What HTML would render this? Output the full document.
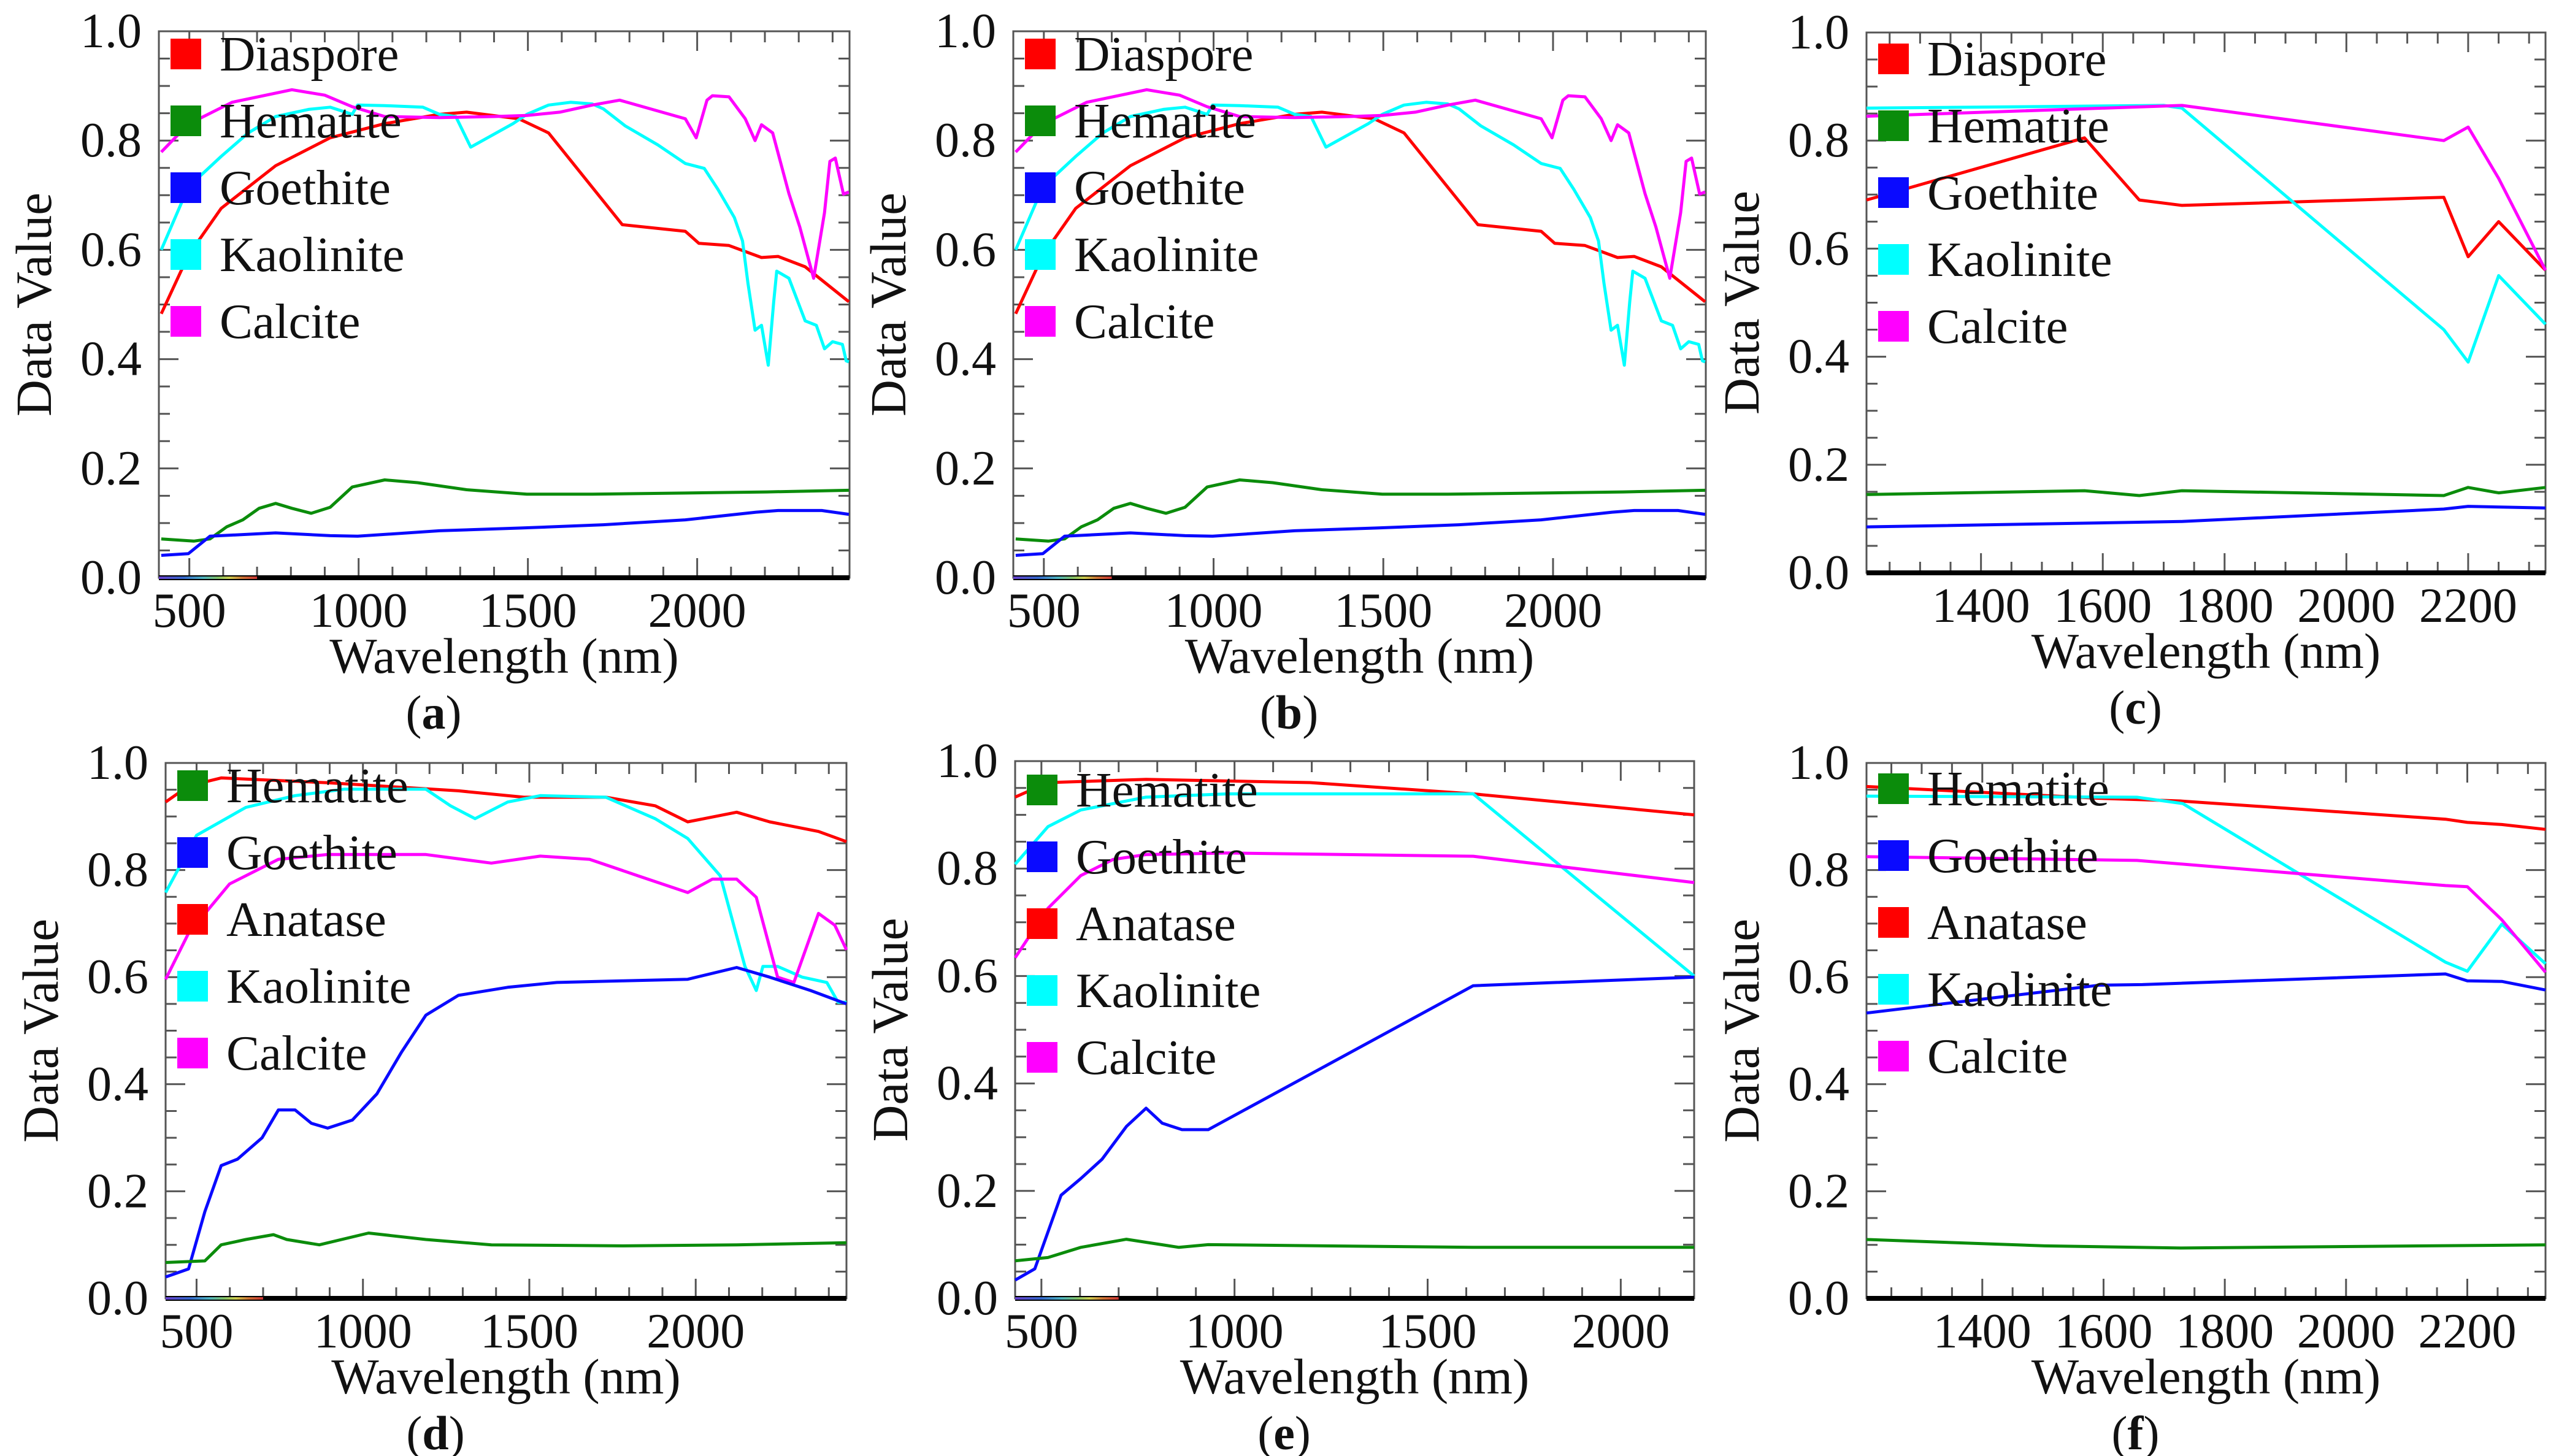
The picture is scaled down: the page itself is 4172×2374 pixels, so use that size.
<!DOCTYPE html>
<html><head><meta charset="utf-8">
<style>
html,body{margin:0;padding:0;background:#fff;}
svg{display:block;}
text{font-family:"Liberation Serif",serif;fill:#111;}
</style></head>
<body>
<svg id="fig" xmlns="http://www.w3.org/2000/svg" width="4172" height="2374" viewBox="0 0 4172 2374"></svg>
<script>
// ---- Panel (a) data ----
const aDiasporeWl=[417,497,594,755,916,1077,1239,1319,1473,1561,1779,1965,2005,2094,2190,2239,2319,2448];
const aDiasporeVal=[0.483,0.59,0.676,0.754,0.805,0.831,0.848,0.852,0.84,0.814,0.646,0.634,0.612,0.608,0.586,0.588,0.569,0.505];
const aHematiteWl=[417,513,561,610,658,706,755,803,860,916,981,1077,1174,1319,1497,1690,1965,2206,2448];
const aHematiteVal=[0.071,0.067,0.071,0.093,0.106,0.127,0.136,0.127,0.118,0.129,0.166,0.179,0.174,0.161,0.153,0.153,0.155,0.157,0.16];
const aGoethiteWl=[417,497,561,755,916,997,1239,1481,1723,1965,2174,2239,2368,2448];
const aGoethiteVal=[0.041,0.044,0.076,0.082,0.077,0.076,0.086,0.091,0.097,0.106,0.12,0.123,0.123,0.116];
const aKaoliniteWl=[417,497,594,674,755,852,916,981,997,1077,1190,1239,1287,1331,1456,1497,1561,1626,1690,1723,1787,1884,1965,2021,2061,2110,2134,2150,2171,2190,2210,2226,2235,2271,2319,2352,2376,2400,2429,2440,2448];
const aKaoliniteVal=[0.6,0.715,0.771,0.814,0.844,0.857,0.861,0.848,0.865,0.864,0.861,0.848,0.844,0.788,0.831,0.848,0.865,0.87,0.867,0.858,0.827,0.792,0.758,0.749,0.711,0.659,0.616,0.539,0.453,0.462,0.389,0.505,0.561,0.548,0.47,0.462,0.419,0.432,0.427,0.397,0.395];
const aCalciteWl=[417,497,626,803,900,981,1077,1239,1400,1497,1594,1690,1771,1965,1997,2029,2045,2094,2142,2171,2190,2223,2271,2303,2344,2376,2392,2408,2432,2448];
const aCalciteVal=[0.779,0.83,0.87,0.893,0.883,0.862,0.844,0.842,0.844,0.846,0.852,0.865,0.874,0.84,0.805,0.874,0.882,0.88,0.84,0.8,0.829,0.814,0.703,0.642,0.548,0.668,0.762,0.768,0.702,0.706];
// ---- Panel (b) data ----
const bDiasporeWl=[417,497,594,755,916,1077,1239,1319,1473,1561,1779,1965,2005,2094,2190,2239,2319,2448];
const bDiasporeVal=[0.483,0.59,0.676,0.754,0.805,0.831,0.848,0.852,0.84,0.814,0.646,0.634,0.612,0.608,0.586,0.588,0.569,0.505];
const bHematiteWl=[417,513,561,610,658,706,755,803,860,916,981,1077,1174,1319,1497,1690,1965,2206,2448];
const bHematiteVal=[0.071,0.067,0.071,0.093,0.106,0.127,0.136,0.127,0.118,0.129,0.166,0.179,0.174,0.161,0.153,0.153,0.155,0.157,0.16];
const bGoethiteWl=[417,497,561,755,916,997,1239,1481,1723,1965,2174,2239,2368,2448];
const bGoethiteVal=[0.041,0.044,0.076,0.082,0.077,0.076,0.086,0.091,0.097,0.106,0.12,0.123,0.123,0.116];
const bKaoliniteWl=[417,497,594,674,755,852,916,981,997,1077,1190,1239,1287,1331,1456,1497,1561,1626,1690,1723,1787,1884,1965,2021,2061,2110,2134,2150,2171,2190,2210,2226,2235,2271,2319,2352,2376,2400,2429,2440,2448];
const bKaoliniteVal=[0.6,0.715,0.771,0.814,0.844,0.857,0.861,0.848,0.865,0.864,0.861,0.848,0.844,0.788,0.831,0.848,0.865,0.87,0.867,0.858,0.827,0.792,0.758,0.749,0.711,0.659,0.616,0.539,0.453,0.462,0.389,0.505,0.561,0.548,0.47,0.462,0.419,0.432,0.427,0.397,0.395];
const bCalciteWl=[417,497,626,803,900,981,1077,1239,1400,1497,1594,1690,1771,1965,1997,2029,2045,2094,2142,2171,2190,2223,2271,2303,2344,2376,2392,2408,2432,2448];
const bCalciteVal=[0.779,0.83,0.87,0.893,0.883,0.862,0.844,0.842,0.844,0.846,0.852,0.865,0.874,0.84,0.805,0.874,0.882,0.88,0.84,0.8,0.829,0.814,0.703,0.642,0.548,0.668,0.762,0.768,0.702,0.706];
// ---- Panel (c) data ----
const cDiasporeWl=[1212,1570,1660,1730,2160,2200,2250,2327];
const cDiasporeVal=[0.69,0.805,0.69,0.68,0.695,0.585,0.65,0.56];
const cHematiteWl=[1212,1570,1660,1730,2160,2200,2250,2327];
const cHematiteVal=[0.145,0.152,0.143,0.152,0.143,0.158,0.148,0.158];
const cGoethiteWl=[1212,1730,2160,2200,2327];
const cGoethiteVal=[0.085,0.095,0.118,0.123,0.12];
const cKaoliniteWl=[1212,1700,1730,2160,2200,2250,2327];
const cKaoliniteVal=[0.86,0.865,0.86,0.45,0.39,0.55,0.46];
const cCalciteWl=[1212,1730,2160,2200,2250,2327];
const cCalciteVal=[0.845,0.865,0.8,0.825,0.73,0.56];
// ---- Panel (d) data ----
const dHematiteWl=[407,525,574,648,731,771,869,1017,1189,1386,1780,2123,2453];
const dHematiteVal=[0.067,0.07,0.1,0.11,0.119,0.11,0.1,0.122,0.11,0.1,0.098,0.1,0.104];
const dGoethiteWl=[407,476,525,574,623,697,746,796,845,894,968,1042,1115,1189,1287,1435,1583,1780,1976,2123,2222,2345,2453];
const dGoethiteVal=[0.04,0.055,0.162,0.248,0.26,0.3,0.352,0.352,0.327,0.318,0.333,0.382,0.459,0.529,0.566,0.581,0.59,0.593,0.596,0.618,0.6,0.575,0.55];
const dAnataseWl=[407,476,574,894,1287,1484,1730,1878,1976,2025,2123,2222,2369,2453];
const dAnataseVal=[0.927,0.957,0.972,0.963,0.948,0.936,0.936,0.92,0.89,0.896,0.908,0.89,0.872,0.853];
const dKaoliniteWl=[407,500,648,796,943,1189,1263,1337,1435,1533,1730,1878,1976,2074,2148,2182,2202,2246,2320,2394,2428,2453];
const dKaoliniteVal=[0.758,0.865,0.917,0.939,0.951,0.951,0.92,0.896,0.927,0.939,0.936,0.896,0.859,0.789,0.62,0.575,0.62,0.62,0.6,0.59,0.553,0.553];
const dCalciteWl=[407,476,599,746,894,1189,1386,1533,1681,1828,1976,2050,2123,2182,2246,2295,2369,2418,2453];
const dCalciteVal=[0.596,0.682,0.774,0.82,0.829,0.829,0.813,0.826,0.82,0.789,0.758,0.783,0.783,0.749,0.6,0.59,0.719,0.697,0.651];
// ---- Panel (e) data ----
const eHematiteWl=[432,517,602,720,856,932,1618,2190];
const eHematiteVal=[0.07,0.076,0.095,0.11,0.095,0.1,0.095,0.095];
const eGoethiteWl=[432,483,551,602,657,720,771,813,864,932,1618,2190];
const eGoethiteVal=[0.034,0.055,0.192,0.223,0.259,0.32,0.354,0.326,0.314,0.314,0.582,0.598];
const eAnataseWl=[432,517,771,1195,1618,2190];
const eAnataseVal=[0.933,0.96,0.966,0.96,0.939,0.9];
const eKaoliniteWl=[432,517,602,771,983,1618,2190];
const eKaoliniteVal=[0.808,0.878,0.909,0.933,0.939,0.939,0.6];
const eCalciteWl=[432,517,602,686,771,983,1618,2190];
const eCalciteVal=[0.634,0.726,0.787,0.817,0.826,0.829,0.823,0.774];
// ---- Panel (f) data ----
const fHematiteWl=[1209,1503,1727,2329];
const fHematiteVal=[0.11,0.098,0.094,0.1];
const fGoethiteWl=[1209,1593,1664,2164,2200,2257,2329];
const fGoethiteVal=[0.533,0.585,0.586,0.606,0.593,0.592,0.576];
const fAnataseWl=[1209,1593,1727,2164,2200,2257,2329];
const fAnataseVal=[0.956,0.934,0.929,0.895,0.889,0.885,0.876];
const fKaoliniteWl=[1209,1655,1731,2164,2200,2257,2329];
const fKaoliniteVal=[0.938,0.936,0.924,0.628,0.611,0.699,0.625];
const fCalciteWl=[1209,1655,2164,2200,2257,2329];
const fCalciteVal=[0.825,0.818,0.771,0.769,0.707,0.609];
// ---- tick labels ----
const yTickLabels=["0.0","0.2","0.4","0.6","0.8","1.0"];
const yTickValues=[0,0.2,0.4,0.6,0.8,1.0];
const xTicksFull=[500,1000,1500,2000];
const xTicksSwir=[1400,1600,1800,2000,2200];
const legendTop=["Diaspore","Hematite","Goethite","Kaolinite","Calcite"];
const legendBottom=["Hematite","Goethite","Anatase","Kaolinite","Calcite"];

const NS="http://www.w3.org/2000/svg";
const svg=document.getElementById('fig');
const COL={red:"#ff0000",green:"#0b8c0b",blue:"#0a0aff",cyan:"#00ffff",magenta:"#ff00ff"};
function mk(tag,attrs,parent){const e=document.createElementNS(NS,tag);for(const k in attrs)e.setAttribute(k,attrs[k]);(parent||svg).appendChild(e);return e;}

const defs=mk('defs',{});
const grad=mk('linearGradient',{id:'rainbow',x1:'0',x2:'1',y1:'0',y2:'0'},defs);
[["0","#8050ff"],["0.25","#4080ff"],["0.45","#60e0f0"],["0.6","#a0f080"],["0.72","#ffff60"],["0.85","#ff9040"],["1","#ff4040"]].forEach(s=>mk('stop',{offset:s[0],'stop-color':s[1]},grad));

const panels=[
 {id:'a',L:259,R:1385,T:51,B:942,xmin:410,xmax:2450,ticks:xTicksFull,minor:100,legend:legendTop,rainbow:true,
  series:[[aDiasporeWl,aDiasporeVal,'red'],[aKaoliniteWl,aKaoliniteVal,'cyan'],[aCalciteWl,aCalciteVal,'magenta'],[aHematiteWl,aHematiteVal,'green'],[aGoethiteWl,aGoethiteVal,'blue']],lcol:['red','green','blue','cyan','magenta'],loff:37},
 {id:'b',L:1652,R:2781,T:51,B:942,xmin:410,xmax:2450,ticks:xTicksFull,minor:100,legend:legendTop,rainbow:true,
  series:[[bDiasporeWl,bDiasporeVal,'red'],[bKaoliniteWl,bKaoliniteVal,'cyan'],[bCalciteWl,bCalciteVal,'magenta'],[bHematiteWl,bHematiteVal,'green'],[bGoethiteWl,bGoethiteVal,'blue']],lcol:['red','green','blue','cyan','magenta'],loff:37},
 {id:'c',L:3043,R:4150,T:53,B:934,xmin:1212,xmax:2327,ticks:xTicksSwir,minor:50,legend:legendTop,rainbow:false,
  series:[[cDiasporeWl,cDiasporeVal,'red'],[cKaoliniteWl,cKaoliniteVal,'cyan'],[cCalciteWl,cCalciteVal,'magenta'],[cHematiteWl,cHematiteVal,'green'],[cGoethiteWl,cGoethiteVal,'blue']],lcol:['red','green','blue','cyan','magenta'],loff:43},
 {id:'d',L:270,R:1380,T:1244,B:2117,xmin:407,xmax:2453,ticks:xTicksFull,minor:100,legend:legendBottom,rainbow:true,
  series:[[dAnataseWl,dAnataseVal,'red'],[dKaoliniteWl,dKaoliniteVal,'cyan'],[dCalciteWl,dCalciteVal,'magenta'],[dGoethiteWl,dGoethiteVal,'blue'],[dHematiteWl,dHematiteVal,'green']],lcol:['green','blue','red','cyan','magenta'],loff:37},
 {id:'e',L:1655,R:2762,T:1241,B:2117,xmin:432,xmax:2190,ticks:xTicksFull,minor:100,legend:legendBottom,rainbow:true,
  series:[[eAnataseWl,eAnataseVal,'red'],[eKaoliniteWl,eKaoliniteVal,'cyan'],[eCalciteWl,eCalciteVal,'magenta'],[eGoethiteWl,eGoethiteVal,'blue'],[eHematiteWl,eHematiteVal,'green']],lcol:['green','blue','red','cyan','magenta'],loff:47},
 {id:'f',L:3043,R:4150,T:1244,B:2117,xmin:1209,xmax:2329,ticks:xTicksSwir,minor:50,legend:legendBottom,rainbow:false,
  series:[[fAnataseWl,fAnataseVal,'red'],[fKaoliniteWl,fKaoliniteVal,'cyan'],[fCalciteWl,fCalciteVal,'magenta'],[fGoethiteWl,fGoethiteVal,'blue'],[fHematiteWl,fHematiteVal,'green']],lcol:['green','blue','red','cyan','magenta'],loff:42}
];

panels.forEach(p=>{
  const g=mk('g',{});
  
  
  const xs=v=>p.L+(v-p.xmin)/(p.xmax-p.xmin)*(p.R-p.L);
  const ys=v=>p.B-v*(p.B-p.T);
  const fr=mk('rect',{x:p.L,y:p.T,width:p.R-p.L,height:p.B-p.T,fill:'none',stroke:'#555',"stroke-width":3},g);
  
  
  for(let i=0;i<=20;i++){const v=i*0.05;const len=(i%4===0)?32:18;const y=ys(v);
    mk('line',{x1:p.L,x2:p.L+len,y1:y,y2:y,stroke:'#555',"stroke-width":3},g);
    mk('line',{x1:p.R,x2:p.R-len,y1:y,y2:y,stroke:'#555',"stroke-width":3},g);}
  yTickValues.forEach((v,i)=>{const t=mk('text',{x:p.L-28,y:ys(v)+26,'font-size':80,'text-anchor':'end'},g);t.textContent=yTickLabels[i];
    
    });
  const start=Math.ceil(p.xmin/p.minor)*p.minor;
  for(let v=start;v<=p.xmax;v+=p.minor){const major=p.ticks.indexOf(v)>=0;const len=major?32:18;const x=xs(v);
    mk('line',{x1:x,x2:x,y1:p.T,y2:p.T+len,stroke:'#555',"stroke-width":3},g);
    mk('line',{x1:x,x2:x,y1:p.B,y2:p.B-len,stroke:'#555',"stroke-width":3},g);}
  p.ticks.forEach(v=>{const t=mk('text',{x:xs(v),y:p.B+80,'font-size':80,'text-anchor':'middle'},g);t.textContent=String(v);
    
    });
  p.series.forEach(s=>{const pts=s[0].map((w,i)=>xs(w).toFixed(1)+','+ys(s[1][i]).toFixed(1)).join(' ');
    const pl=mk('polyline',{points:pts,fill:'none',stroke:COL[s[2]],"stroke-width":5,"stroke-linejoin":"round"},g);
    
    });
  const ax=mk('line',{x1:p.L,x2:p.R,y1:p.B,y2:p.B,stroke:'#000',"stroke-width":8},g);
  
  
  if(p.rainbow){const rb=mk('rect',{x:p.L,y:p.B-2,width:xs(700)-p.L,height:4,fill:'url(#rainbow)',opacity:0.8},g);
    
    }
  p.legend.forEach((name,i)=>{const cy=p.T+p.loff+i*109;
    const sq=mk('rect',{x:p.L+19,y:cy-25,width:50,height:50,fill:COL[p.lcol[i]]},g);
    
    
    const t=mk('text',{x:p.L+99,y:cy+27,'font-size':81},g);t.textContent=name;
    
    });
  const cx=(p.L+p.R)/2;
  const xt=mk('text',{x:cx,y:p.B+155,'font-size':82,'text-anchor':'middle'},g);xt.textContent='Wavelength (nm)';
  
  
  const yc=(p.T+p.B)/2;
  const yt=mk('text',{x:0,y:0,'font-size':83,'text-anchor':'middle',transform:`translate(${p.L-176},${yc}) rotate(-90)`},g);yt.textContent='Data Value';
  
  
  const pt=mk('text',{x:cx-115,y:p.B+246,'font-size':78,'text-anchor':'middle'},g);
  
  
  const t1=mk('tspan',{},pt);t1.textContent='(';
  const t2=mk('tspan',{'font-weight':'bold'},pt);t2.textContent=p.id;
  const t3=mk('tspan',{},pt);t3.textContent=')';
});
</script>
</body></html>
